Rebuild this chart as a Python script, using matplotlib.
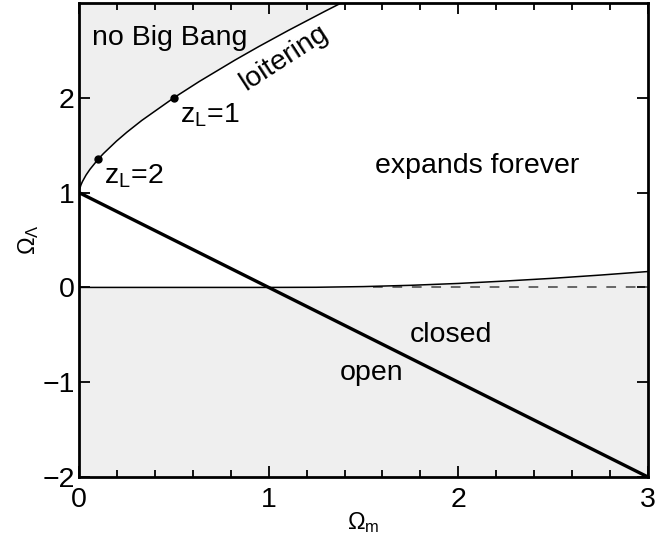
import numpy as np
import matplotlib
matplotlib.use('Agg')
from matplotlib import pyplot as plt
from matplotlib.ticker import MultipleLocator

plt.rcParams['font.family'] = ['Liberation Sans', 'DejaVu Sans']
plt.rcParams['mathtext.fontset'] = 'custom'
plt.rcParams['mathtext.rm'] = 'Liberation Sans'
plt.rcParams['mathtext.it'] = 'Liberation Sans:italic'

# loitering / no Big Bang boundary (Omega_m, Omega_Lambda)
loiter_om = [0.0, 0.0006, 0.0021, 0.01, 0.0179, 0.037, 0.0582, 0.1, 0.1286,
             0.1975, 0.2523, 0.3307, 0.5, 0.6331, 0.8224, 0.9481, 1.1031,
             1.2969, 1.3882]
loiter_ol = [1.0, 1.013, 1.029, 1.08, 1.116, 1.185, 1.247, 1.35, 1.4115,
             1.543, 1.637, 1.761, 2.0, 2.171, 2.398, 2.541, 2.710,
             2.913, 3.006]

# recollapse boundary (expands forever above)
recol_om = [0.0, 1.0, 1.25, 1.5, 1.75, 2.0, 2.25, 2.5, 2.75, 3.0]
recol_ol = [0.0, 0.0, 0.0015, 0.0087, 0.0223, 0.0419, 0.0675, 0.0964, 0.1303, 0.1676]

# flat universe line
flat_om = [0.0, 3.0]
flat_ol = [1.0, -2.0]

# marked loitering redshifts
zl_om = [0.5, 0.1]
zl_ol = [2.0, 1.35]
zl_lab = ['1', '2']

fig = plt.figure(figsize=(6.65, 5.37), dpi=100)
ax = fig.add_axes([0.1188, 0.1117, 0.8556, 0.8827])

gray = '#efefef'
ax.fill_between(loiter_om, loiter_ol, 3.1, color=gray, lw=0)
ax.fill_between(recol_om, -2.1, recol_ol, color=gray, lw=0)

ax.plot([1.55, 3], [0, 0], color='#666666', lw=1.4, dashes=(5, 5))
ax.plot(recol_om, recol_ol, color='black', lw=1.1)
ax.plot(loiter_om, loiter_ol, color='black', lw=1.1)
ax.plot(flat_om, flat_ol, color='black', lw=2.4, solid_capstyle='butt')
ax.plot(zl_om, zl_ol, 'o', color='black', ms=5)

fs = 20.5
ax.text(0.07, 2.63, 'no Big Bang', fontsize=fs, va='center', ha='left')
ax.text(1.08, 2.42, 'loitering', fontsize=fs, va='center', ha='center', rotation=33)
for om, ol, lab in zip(zl_om, zl_ol, zl_lab):
    ax.text(om + 0.03, ol - 0.18, r'z$_\mathrm{L}$=' + lab, fontsize=fs,
            va='center', ha='left')
ax.text(2.1, 1.28, 'expands forever', fontsize=fs, va='center', ha='center')
ax.text(1.96, -0.5, 'closed', fontsize=fs, va='center', ha='center')
ax.text(1.54, -0.9, 'open', fontsize=fs, va='center', ha='center')

ax.set_xlim(0, 3)
ax.set_ylim(-2, 3)
ax.set_xticks([0, 1, 2, 3])
ax.set_yticks([-2, -1, 0, 1, 2])
ax.xaxis.set_minor_locator(MultipleLocator(0.2))
ax.tick_params(which='both', direction='in', top=True, right=True,
               labelsize=fs, width=1.3)
ax.tick_params(axis='x', pad=7)
ax.tick_params(axis='y', pad=3)
ax.tick_params(which='major', length=8)
ax.tick_params(which='minor', length=5)
for s in ax.spines.values():
    s.set_linewidth(2.0)

ax.set_xlabel(r'$\mathrm{\Omega_m}$', fontsize=17, labelpad=-2)
ax.set_ylabel(r'$\mathrm{\Omega_\Lambda}$', fontsize=17, labelpad=1)

fig.savefig('out.png', dpi=100)
